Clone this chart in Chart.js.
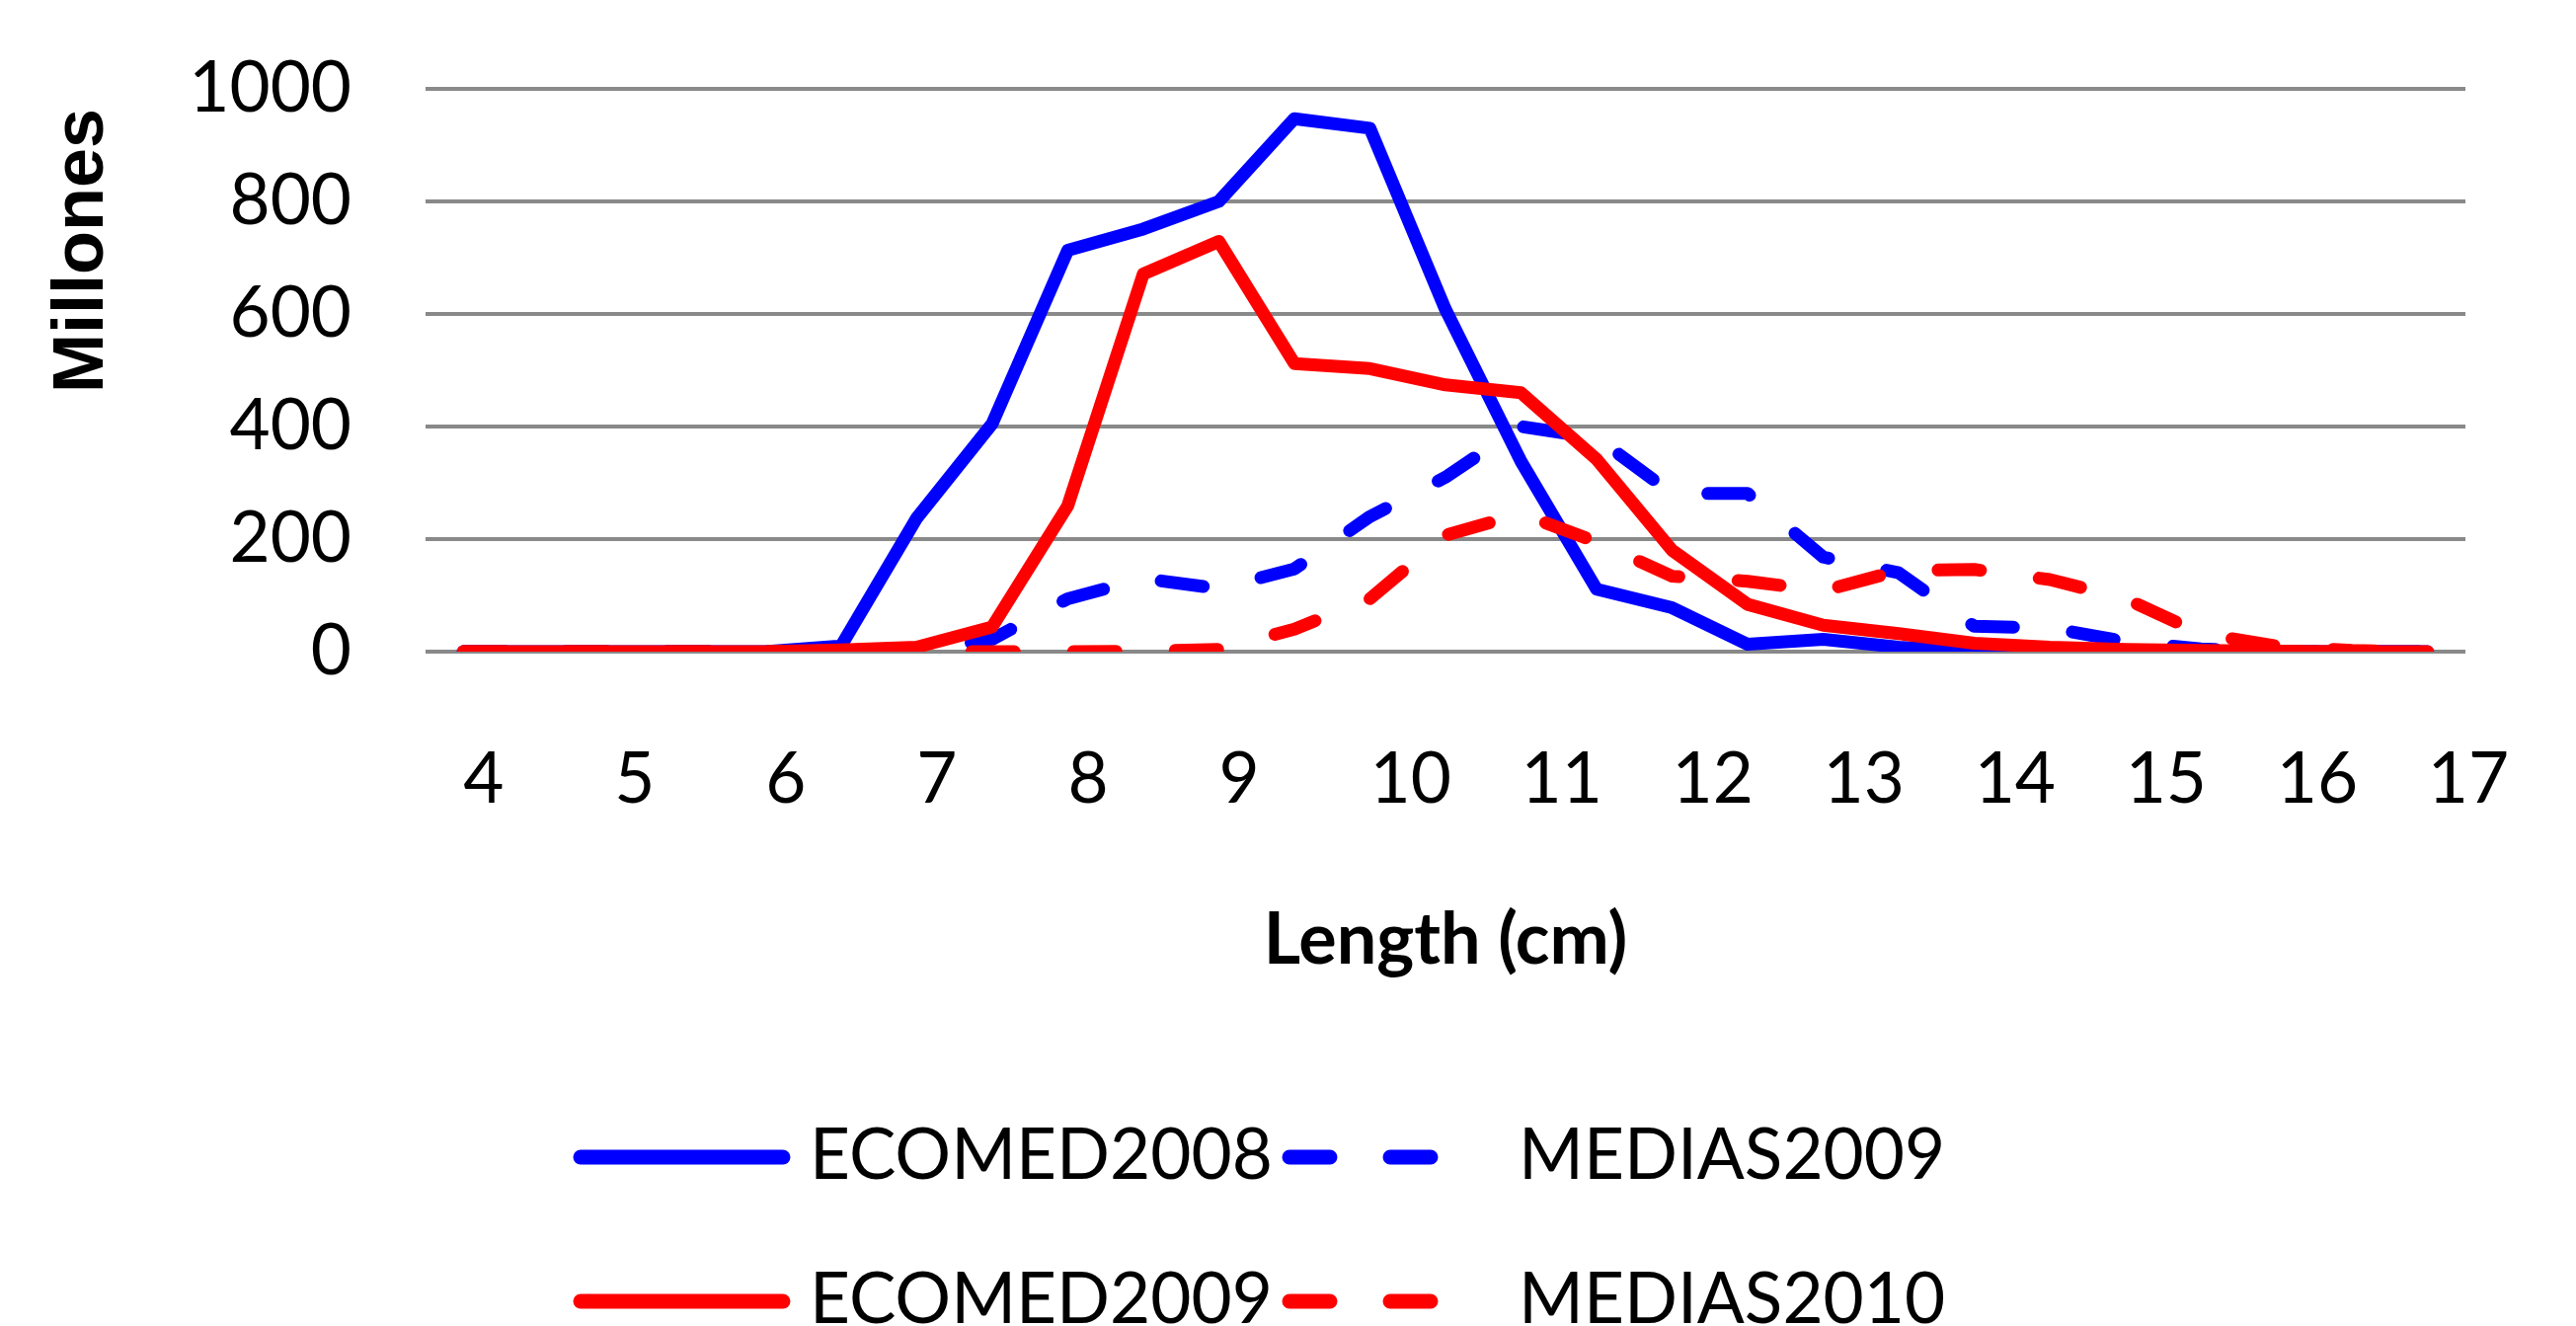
<!DOCTYPE html>
<html>
<head>
<meta charset="utf-8">
<script src="https://cdn.jsdelivr.net/npm/chart.js@4.4.1/dist/chart.umd.min.js"></script>
<style>
html,body{margin:0;padding:0;background:#ffffff;overflow:hidden}
canvas{display:block}
</style>
</head>
<body>
<canvas id="c" width="2609" height="1343" style="width:2609px;height:1343px"></canvas>
<script>
// ---- data ----
const lengths = ['4','4.5','5','5.5','6','6.5','7','7.5','8','8.5','9','9.5','10','10.5','11','11.5','12','12.5','13','13.5','14','14.5','15','15.5','16','16.5','17'];
const ecomed2008 = [0,0,0,0,0,10,237,405,713,751,800,947,930,608,338,111,78,13,22,8,0,0,0,0,0,0,0];
const medias2009 = [0,0,0,0,0,0,0,22,94,130,112,147,240,310,400,380,281,281,168,140,45,42,18,5,0,0,0];
const ecomed2009 = [0,0,0,0,0,3,8,44,259,671,729,512,503,474,460,342,180,84,47,32,15,8,4,2,1,0,0];
const medias2010 = [0,0,0,0,0,0,0,0,0,1,4,40,94,207,245,195,134,125,108,144,146,128,94,32,10,2,0];
const seriesNames = ['ECOMED2008','MEDIAS2009','ECOMED2009','MEDIAS2010'];
const yTickValues = [0,200,400,600,800,1000];
const xTitle = 'Length (cm)';
const yTitle = 'Millones';

const BLUE = '#0000FF', RED = '#FF0000', GRID = '#898989';
const DASH = [43, 60];

// custom two-row legend in the Excel arrangement
const legendPlugin = {
  id: 'excelLegend',
  afterDraw(chart) {
    const ctx = chart.ctx;
    const lineX = [588, 1306];
    const lineLen = [205, 199];
    const textX = [820, 1538];
    const rowY = [1172, 1318];
    ctx.save();
    chart.data.datasets.forEach((d, i) => {
      const col = i % 2, row = Math.floor(i / 2);
      const y = rowY[row];
      ctx.strokeStyle = d.borderColor;
      ctx.lineWidth = 15;
      ctx.lineCap = 'round';
      ctx.setLineDash(d.borderDash && d.borderDash.length ? [41, 61] : []);
      ctx.lineDashOffset = 0;
      ctx.beginPath();
      ctx.moveTo(lineX[col], y);
      ctx.lineTo(lineX[col] + lineLen[col], y);
      ctx.stroke();
      ctx.setLineDash([]);
      ctx.fillStyle = '#000000';
      ctx.font = '71px Lato';
      ctx.textAlign = 'left';
      ctx.textBaseline = 'middle';
      ctx.fillText(d.label, textX[col], y - 0.5);
    });
    ctx.restore();
  }
};

function mk(label, data, color, dashed, order) {
  return {
    label, data,
    borderColor: color,
    backgroundColor: color,
    borderWidth: 13,
    borderDash: dashed ? DASH : [],
    borderCapStyle: 'round',
    borderJoinStyle: 'round',
    pointRadius: 0,
    pointHoverRadius: 0,
    tension: 0,
    fill: false,
    clip: 0,
    order
  };
}

function draw() {
  new Chart(document.getElementById('c'), {
    type: 'line',
    data: {
      labels: lengths,
      datasets: [
        mk(seriesNames[0], ecomed2008, BLUE, false, 4),
        mk(seriesNames[1], medias2009, BLUE, true, 3),
        mk(seriesNames[2], ecomed2009, RED, false, 2),
        mk(seriesNames[3], medias2010, RED, true, 1)
      ]
    },
    options: {
      responsive: false,
      devicePixelRatio: 1,
      animation: false,
      events: [],
      layout: { padding: { top: 90, right: 112, bottom: 343, left: 0 } },
      plugins: { legend: { display: false }, tooltip: { enabled: false } },
      scales: {
        x: {
          type: 'category',
          offset: true,
          grid: { display: true, drawOnChartArea: false, drawTicks: true, tickLength: 88, color: 'rgba(0,0,0,0)', tickColor: 'rgba(0,0,0,0)' },
          border: { display: false },
          ticks: {
            autoSkip: false, maxRotation: 0, minRotation: 0, align: 'start', padding: 0,
            color: '#000000', font: { family: 'Lato', size: 71 },
            callback: function (v) {
              const l = this.getLabelForValue(v);
              return Number(l) % 1 === 0 ? l : '';
            }
          },
          title: {
            display: true, text: xTitle, color: '#000000',
            font: { family: 'Lato', size: 72, weight: 'bold' },
            padding: { top: 0, bottom: 4 }
          },
          afterFit(scale) { scale.height = 340; }
        },
        y: {
          min: 0, max: 1000,
          afterBuildTicks(scale) { scale.ticks = yTickValues.map(v => ({ value: v })); },
          grid: { color: GRID, lineWidth: 4, drawTicks: true, tickLength: 75, tickColor: 'rgba(0,0,0,0)' },
          border: { display: false },
          ticks: {
            padding: 0, color: '#000000', font: { family: 'Lato', size: 71 },
            callback: (v) => String(v)
          },
          title: {
            display: true, text: yTitle + ' ', align: 'end', color: '#000000',
            font: { family: 'Liberation Sans', size: 72, weight: 'bold' },
            padding: { top: 41, bottom: 0 }
          },
          afterFit(scale) { scale.width = 431; }
        }
      }
    },
    plugins: [legendPlugin]
  });
}

const fontLoads = [
  document.fonts.load('71px Lato'),
  document.fonts.load('bold 72px Lato'),
  document.fonts.load('bold 72px "Liberation Sans"')
];
Promise.all(fontLoads).then(draw, draw);
</script>
</body>
</html>
